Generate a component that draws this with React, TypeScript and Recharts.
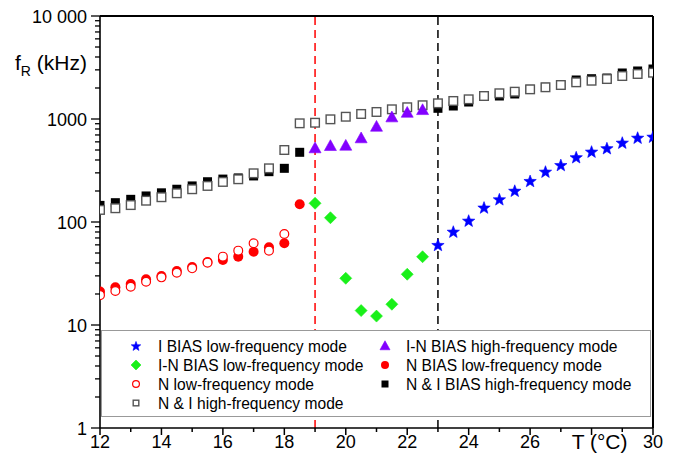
import React from 'react';
import { ScatterChart, Scatter, XAxis, YAxis, ReferenceLine } from 'recharts';

// ---------- data ----------
const tNIHigh = [12, 12.5, 13, 13.5, 14, 14.5, 15, 15.5, 16, 16.5, 17, 17.5, 18, 18.5, 19, 19.5, 20, 20.5, 21, 21.5, 22, 22.5, 23, 23.5, 24, 24.5, 25, 25.5, 26, 26.5, 27, 27.5, 28, 28.5, 29, 29.5, 30];
const fNIHigh = [131, 136, 146, 161, 174, 190, 208, 224, 245, 260, 297, 332, 500, 908, 920, 993, 1052, 1119, 1170, 1242, 1300, 1360, 1420, 1496, 1553, 1672, 1777, 1841, 1941, 2032, 2138, 2271, 2353, 2444, 2614, 2736, 2816];

const tNIBiasHigh = [12, 12.5, 13, 13.5, 14, 14.5, 15, 15.5, 16, 16.5, 17, 17.5, 18, 18.5, 23, 23.5, 24, 24.5, 25, 25.5, 26, 26.5, 27, 27.5, 28, 28.5, 29, 29.5, 30];
const fNIBiasHigh = [145, 154, 166, 179, 192, 208, 224, 246, 261, 268, 280, 308, 332, 475, 1270, 1337, 1462, 1672, 1672, 1749, 1941, 2032, 2138, 2392, 2462, 2500, 2797, 2925, 3057];

const tINBiasHigh = [19, 19.5, 20, 20.5, 21, 21.5, 22, 22.5];
const fINBiasHigh = [520, 547, 551, 650, 842, 1038, 1151, 1222];

const tINBiasLow = [19, 19.5, 20, 20.5, 21, 21.5, 22, 22.5];
const fINBiasLow = [152, 110, 28.4, 13.8, 12.2, 15.9, 31.1, 46];

const tNBiasLow = [12, 12.5, 13, 13.5, 14, 14.5, 15, 15.5, 16, 16.5, 17, 17.5, 18, 18.5];
const fNBiasLow = [21.1, 23.2, 25.0, 27.8, 29.9, 33.4, 36.6, 40.9, 42.8, 46.1, 51.5, 56.8, 62.1, 148.6];

const tNLow = [12, 12.5, 13, 13.5, 14, 14.5, 15, 15.5, 16, 16.5, 17, 17.5, 18];
const fNLow = [19.5, 21.4, 23.5, 26.3, 29.0, 32.2, 35.5, 40.3, 46.1, 52.7, 62.1, 52.7, 76.4];

const tIBiasLow = [23, 23.5, 24, 24.5, 25, 25.5, 26, 26.5, 27, 27.5, 28, 28.5, 29, 29.5, 30];
const fIBiasLow = [59.8, 80.5, 103, 138, 166, 201, 250, 308, 357, 425, 482, 520, 589, 658, 673];

const xTicks = [12, 13, 14, 15, 16, 17, 18, 19, 20, 21, 22, 23, 24, 25, 26, 27, 28, 29, 30];
const xLabelTicks = [12, 14, 16, 18, 20, 22, 24, 26, 30];
const yMajor = [1, 10, 100, 1000, 10000];
const yMajorLabels = ['1', '10', '100', '1000', '10 000'];
const yMinor = [2, 3, 4, 5, 6, 7, 8, 9, 20, 30, 40, 50, 60, 70, 80, 90, 200, 300, 400, 500, 600, 700, 800, 900, 2000, 3000, 4000, 5000, 6000, 7000, 8000, 9000];
const markerLines = [19, 23];

const legendLabels = [
  'I BIAS low-frequency mode',
  'I-N BIAS high-frequency mode',
  'I-N BIAS low-frequency mode',
  'N BIAS low-frequency mode',
  'N low-frequency mode',
  'N & I BIAS high-frequency mode',
  'N & I high-frequency mode',
];

const zip = (ts: number[], fs: number[]) => ts.map((t, i) => ({ x: t, y: fs[i] }));

// ---------- styling ----------
const FONT = '"Liberation Sans", Arial, sans-serif';
const BLUE = '#0000ff';
const GREEN = '#19f019';
const RED = '#ff0000';
const PURPLE = '#8200ff';

type Sym = 'star' | 'triangle' | 'diamond' | 'dot' | 'ring' | 'fsquare' | 'osquare';

function drawSymbol(kind: Sym, cx: number, cy: number, s: number, key?: string) {
  switch (kind) {
    case 'star': {
      const pts: string[] = [];
      const R = s / 2;
      const r = R * 0.42;
      for (let i = 0; i < 10; i++) {
        const a = -Math.PI / 2 + (i * Math.PI) / 5;
        const rad = i % 2 === 0 ? R : r;
        pts.push(`${cx + rad * Math.cos(a)},${cy + rad * Math.sin(a) + R * 0.08}`);
      }
      return <polygon key={key} points={pts.join(' ')} fill={BLUE} stroke={BLUE} strokeWidth={0.6} />;
    }
    case 'triangle': {
      const h = s * 0.9;
      return (
        <polygon
          key={key}
          points={`${cx},${cy - h * 0.58} ${cx + s / 2},${cy + h * 0.42} ${cx - s / 2},${cy + h * 0.42}`}
          fill={PURPLE}
          stroke={PURPLE}
          strokeWidth={0.6}
        />
      );
    }
    case 'diamond': {
      const r = s / 2;
      return (
        <polygon key={key} points={`${cx},${cy - r} ${cx + r},${cy} ${cx},${cy + r} ${cx - r},${cy}`} fill={GREEN} stroke={GREEN} strokeWidth={0.6} />
      );
    }
    case 'dot':
      return <circle key={key} cx={cx} cy={cy} r={s / 2} fill={RED} />;
    case 'ring':
      return <circle key={key} cx={cx} cy={cy} r={s / 2 - 0.6} fill="#fff" stroke={RED} strokeWidth={1.2} />;
    case 'fsquare':
      return <rect key={key} x={cx - s / 2} y={cy - s / 2} width={s} height={s} fill="#000" />;
    case 'osquare':
    default:
      return (
        <rect key={key} x={cx - s / 2 + 0.7} y={cy - s / 2 + 0.7} width={s - 1.4} height={s - 1.4} fill="#fff" stroke="#555" strokeWidth={1.4} />
      );
  }
}

const shapeOf = (kind: Sym, s: number) => (props: any) => {
  const { cx, cy } = props;
  if (cx == null || cy == null) return <g />;
  return drawSymbol(kind, cx, cy, s);
};

// ---------- axis ticks ----------
function XTick(props: any) {
  const { x, y, payload } = props;
  const v = payload.value;
  const major = v % 2 === 0;
  return (
    <g>
      <line x1={x} x2={x} y1={y} y2={y + (major ? 7 : 4)} stroke="#000" strokeWidth={1.5} />
      {xLabelTicks.includes(v) && (
        <text x={x} y={y + 20} textAnchor="middle" fontSize={18} fontFamily={FONT} fill="#000">
          {v}
        </text>
      )}
      {v === 28 && (
        <text x={x + 8} y={y + 21} textAnchor="middle" fontSize={21} fontFamily={FONT} fill="#000">
          T (°C)
        </text>
      )}
    </g>
  );
}

function YTick(props: any) {
  const { x, y, payload } = props;
  const v = payload.value;
  const idx = yMajor.indexOf(v);
  const major = idx >= 0;
  return (
    <g>
      <line x1={x - (major ? 9 : 5)} x2={x} y1={y} y2={y} stroke="#000" strokeWidth={1.3} />
      {major && (
        <text x={x - 13} y={y + 6.5} textAnchor="end" fontSize={18} fontFamily={FONT} fill="#000">
          {yMajorLabels[idx]}
        </text>
      )}
    </g>
  );
}

const YTitle = () => (
  <text x={15} y={70} fontSize={21} fontFamily={FONT} fill="#000">
    f
    <tspan fontSize={14} dy={6}>
      R
    </tspan>
    <tspan dy={-6}> (kHz)</tspan>
  </text>
);

// ---------- legend ----------
const legendSyms: Sym[] = ['star', 'triangle', 'diamond', 'dot', 'ring', 'fsquare', 'osquare'];
const legendSizes = [10, 10, 10, 8, 8, 7, 7];

function LegendBox() {
  const left = 101;
  const top = 330;
  const w = 549;
  const h = 86;
  const rows = [346, 365, 384, 403];
  const colSym = [136, 385];
  const colText = [158, 406];
  return (
    <svg width={678} height={461} style={{ position: 'absolute', left: 0, top: 0, pointerEvents: 'none' }}>
      <rect x={left + 0.5} y={top + 0.5} width={w} height={h} fill="#fff" stroke="#999" strokeWidth={1} />
      {legendLabels.map((lab, i) => {
        const row = Math.floor(i / 2);
        const col = i % 2;
        const cy = rows[row];
        return (
          <g key={lab}>
            {drawSymbol(legendSyms[i], colSym[col], cy, legendSizes[i])}
            <text x={colText[col]} y={cy + 5.5} fontSize={15.6} fontFamily={FONT} fill="#000">
              {lab}
            </text>
          </g>
        );
      })}
    </svg>
  );
}

export default function App() {
  return (
    <div style={{ position: 'absolute', left: 0, top: 0, width: 678, height: 461, background: '#fff' }}>
      <ScatterChart width={678} height={461} margin={{ top: 16, right: 25, bottom: 0, left: 0 }}>
        <XAxis
          type="number"
          dataKey="x"
          domain={[12, 30]}
          ticks={xTicks}
          interval={0}
          tickSize={0}
          tickMargin={0}
          tickLine={false}
          tick={(p: any) => <XTick {...p} />}
          height={33}
          axisLine={{ stroke: '#000', strokeWidth: 1.6 }}
          allowDataOverflow
        />
        <YAxis
          type="number"
          dataKey="y"
          scale="log"
          domain={[1, 10000]}
          ticks={[...yMajor, ...yMinor]}
          interval={0}
          tickSize={0}
          tickMargin={0}
          tickLine={false}
          tick={(p: any) => <YTick {...p} />}
          width={100}
          axisLine={{ stroke: '#000', strokeWidth: 1.6 }}
          label={{ content: () => <YTitle /> }}
          allowDataOverflow
        />
        <ReferenceLine y={10000} stroke="#000" strokeWidth={2} />
        <ReferenceLine x={30} stroke="#000" strokeWidth={2} />
        <ReferenceLine x={markerLines[0]} stroke={RED} strokeWidth={1.5} strokeDasharray="8 5" />
        <ReferenceLine x={markerLines[1]} stroke="#000" strokeWidth={1.5} strokeDasharray="8 5" />

        <Scatter data={zip(tNIBiasHigh, fNIBiasHigh)} shape={shapeOf('fsquare', 9)} isAnimationActive={false} />
        <Scatter data={zip(tNIHigh, fNIHigh)} shape={shapeOf('osquare', 10)} isAnimationActive={false} />
        <Scatter data={zip(tNBiasLow, fNBiasLow)} shape={shapeOf('dot', 10)} isAnimationActive={false} />
        <Scatter data={zip(tNLow, fNLow)} shape={shapeOf('ring', 10)} isAnimationActive={false} />
        <Scatter data={zip(tINBiasHigh, fINBiasHigh)} shape={shapeOf('triangle', 12)} isAnimationActive={false} />
        <Scatter data={zip(tINBiasLow, fINBiasLow)} shape={shapeOf('diamond', 12)} isAnimationActive={false} />
        <Scatter data={zip(tIBiasLow, fIBiasLow)} shape={shapeOf('star', 13)} isAnimationActive={false} />
      </ScatterChart>
      <LegendBox />
    </div>
  );
}
